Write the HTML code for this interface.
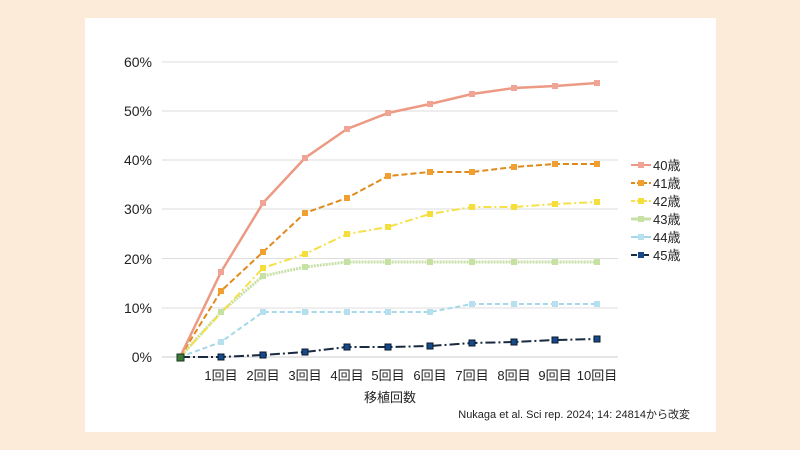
<!DOCTYPE html><html><head><meta charset="utf-8"><style>body{margin:0;background:#fbebd8;}svg{display:block}text{font-family:"Liberation Sans","Noto Sans CJK JP",sans-serif;fill:#222}</style></head><body>
<svg width="800" height="450" xmlns="http://www.w3.org/2000/svg">
<rect width="800" height="450" fill="#fbebd8"/>
<rect x="85" y="18" width="631" height="414" fill="#fff"/>
<g stroke="#ddd" stroke-width="1">
<line x1="162" x2="618" y1="308" y2="308"/><line x1="162" x2="618" y1="258.5" y2="258.5"/><line x1="162" x2="618" y1="209" y2="209"/><line x1="162" x2="618" y1="160" y2="160"/><line x1="162" x2="618" y1="111" y2="111"/><line x1="162" x2="618" y1="62" y2="62"/>
<line x1="162" x2="618" y1="357" y2="357" stroke="#ccc"/>
</g>
<g font-size="14" text-anchor="end">
<text x="152" y="362">0%</text><text x="152" y="313">10%</text><text x="152" y="264">20%</text><text x="152" y="214">30%</text><text x="152" y="165">40%</text><text x="152" y="116">50%</text><text x="152" y="67">60%</text>
</g>
<g font-size="13" text-anchor="middle">
<text x="221" y="380">1回目</text><text x="263" y="380">2回目</text><text x="305" y="380">3回目</text><text x="347" y="380">4回目</text><text x="388" y="380">5回目</text><text x="430" y="380">6回目</text><text x="472" y="380">7回目</text><text x="514" y="380">8回目</text><text x="555" y="380">9回目</text><text x="597" y="380">10回目</text>
<text x="390" y="402" font-size="13">移植回数</text>
</g>
<text x="690" y="418" font-size="11" text-anchor="end">Nukaga et al. Sci rep. 2024; 14: 24814から改変</text>
<g fill="none" stroke-width="2">
<polyline stroke="#a5d8e8" stroke-dasharray="5,3" points="180,357 221,342 263,312 305,312 347,312 388,312 430,312 472,304 514,304 555,304 597,304"/>
<polyline stroke="#c8e0a8" stroke-width="3" stroke-dasharray="2,1" points="180,357 221,312 263,276 305,267 347,262 388,262 430,262 472,262 514,262 555,262 597,262"/>
<polyline stroke="#f5e04a" stroke-dasharray="8,3,2,3" points="180,357 221,313 263,268 305,254 347,234 388,227 430,214 472,207 514,207 555,204 597,202"/>
<polyline stroke="#e08a1c" stroke-dasharray="6,3" points="180,357 221,291 263,252 305,213 347,198 388,176 430,172 472,172 514,167 555,164 597,164"/>
<polyline stroke="#ec9a84" stroke-width="2.5" points="180,357 221,272 263,203 305,158 347,129 388,113 430,104 472,94 514,88 555,86 597,83"/>
<polyline stroke="#1a2a40" stroke-dasharray="10,3,2,3" points="180,357 221,357 263,355 305,352 347,347 388,347 430,346 472,343 514,342 555,340 597,339"/>
</g>
<g fill="#b6e0ee"><rect x="218" y="339" width="6" height="6"/><rect x="260" y="309" width="6" height="6"/><rect x="302" y="309" width="6" height="6"/><rect x="344" y="309" width="6" height="6"/><rect x="385" y="309" width="6" height="6"/><rect x="427" y="309" width="6" height="6"/><rect x="469" y="301" width="6" height="6"/><rect x="511" y="301" width="6" height="6"/><rect x="552" y="301" width="6" height="6"/><rect x="594" y="301" width="6" height="6"/></g>
<g fill="#c6e2a2"><rect x="218" y="309" width="6" height="6"/><rect x="260" y="273" width="6" height="6"/><rect x="302" y="264" width="6" height="6"/><rect x="344" y="259" width="6" height="6"/><rect x="385" y="259" width="6" height="6"/><rect x="427" y="259" width="6" height="6"/><rect x="469" y="259" width="6" height="6"/><rect x="511" y="259" width="6" height="6"/><rect x="552" y="259" width="6" height="6"/><rect x="594" y="259" width="6" height="6"/></g>
<g fill="#f5de3a"><rect x="260" y="265" width="6" height="6"/><rect x="302" y="251" width="6" height="6"/><rect x="344" y="231" width="6" height="6"/><rect x="385" y="224" width="6" height="6"/><rect x="427" y="211" width="6" height="6"/><rect x="469" y="204" width="6" height="6"/><rect x="511" y="204" width="6" height="6"/><rect x="552" y="201" width="6" height="6"/><rect x="594" y="199" width="6" height="6"/></g>
<g fill="#f0a030"><rect x="218" y="288" width="6" height="6"/><rect x="260" y="249" width="6" height="6"/><rect x="302" y="210" width="6" height="6"/><rect x="344" y="195" width="6" height="6"/><rect x="385" y="173" width="6" height="6"/><rect x="427" y="169" width="6" height="6"/><rect x="469" y="169" width="6" height="6"/><rect x="511" y="164" width="6" height="6"/><rect x="552" y="161" width="6" height="6"/><rect x="594" y="161" width="6" height="6"/></g>
<g fill="#f0a496"><rect x="218" y="269" width="6" height="6"/><rect x="260" y="200" width="6" height="6"/><rect x="302" y="155" width="6" height="6"/><rect x="344" y="126" width="6" height="6"/><rect x="385" y="110" width="6" height="6"/><rect x="427" y="101" width="6" height="6"/><rect x="469" y="91" width="6" height="6"/><rect x="511" y="85" width="6" height="6"/><rect x="552" y="83" width="6" height="6"/><rect x="594" y="80" width="6" height="6"/></g>
<g fill="#164a88" stroke="#0a1a30" stroke-width="1"><rect x="218" y="354" width="6" height="6"/><rect x="260" y="352" width="6" height="6"/><rect x="302" y="349" width="6" height="6"/><rect x="344" y="344" width="6" height="6"/><rect x="385" y="344" width="6" height="6"/><rect x="427" y="343" width="6" height="6"/><rect x="469" y="340" width="6" height="6"/><rect x="511" y="339" width="6" height="6"/><rect x="552" y="337" width="6" height="6"/><rect x="594" y="336" width="6" height="6"/></g>
<rect x="177" y="354" width="7" height="7" fill="#3a7a3a" stroke="#1a3a1a"/>
<g stroke-width="2" font-size="13">
<line x1="631" x2="651" y1="165" y2="165" stroke="#ec9a84"/><rect x="638" y="162" width="6" height="6" fill="#f0a496"/><text x="653" y="170">40歳</text>
<line x1="631" x2="651" y1="183" y2="183" stroke="#e08a1c" stroke-dasharray="4,2"/><rect x="638" y="180" width="6" height="6" fill="#f0a030"/><text x="653" y="188">41歳</text>
<line x1="631" x2="651" y1="201" y2="201" stroke="#f5e04a" stroke-dasharray="4,2"/><rect x="638" y="198" width="6" height="6" fill="#f5de3a"/><text x="653" y="206">42歳</text>
<line x1="631" x2="651" y1="219" y2="219" stroke="#c8e0a8" stroke-width="3"/><rect x="638" y="216" width="6" height="6" fill="#c6e2a2"/><text x="653" y="224">43歳</text>
<line x1="631" x2="651" y1="237" y2="237" stroke="#a5d8e8"/><rect x="638" y="234" width="6" height="6" fill="#b6e0ee"/><text x="653" y="242">44歳</text>
<line x1="631" x2="651" y1="255" y2="255" stroke="#1a2a40" stroke-dasharray="6,2,2,2"/><rect x="638" y="252" width="6" height="6" fill="#164a88"/><text x="653" y="260">45歳</text>
</g>
</svg></body></html>
